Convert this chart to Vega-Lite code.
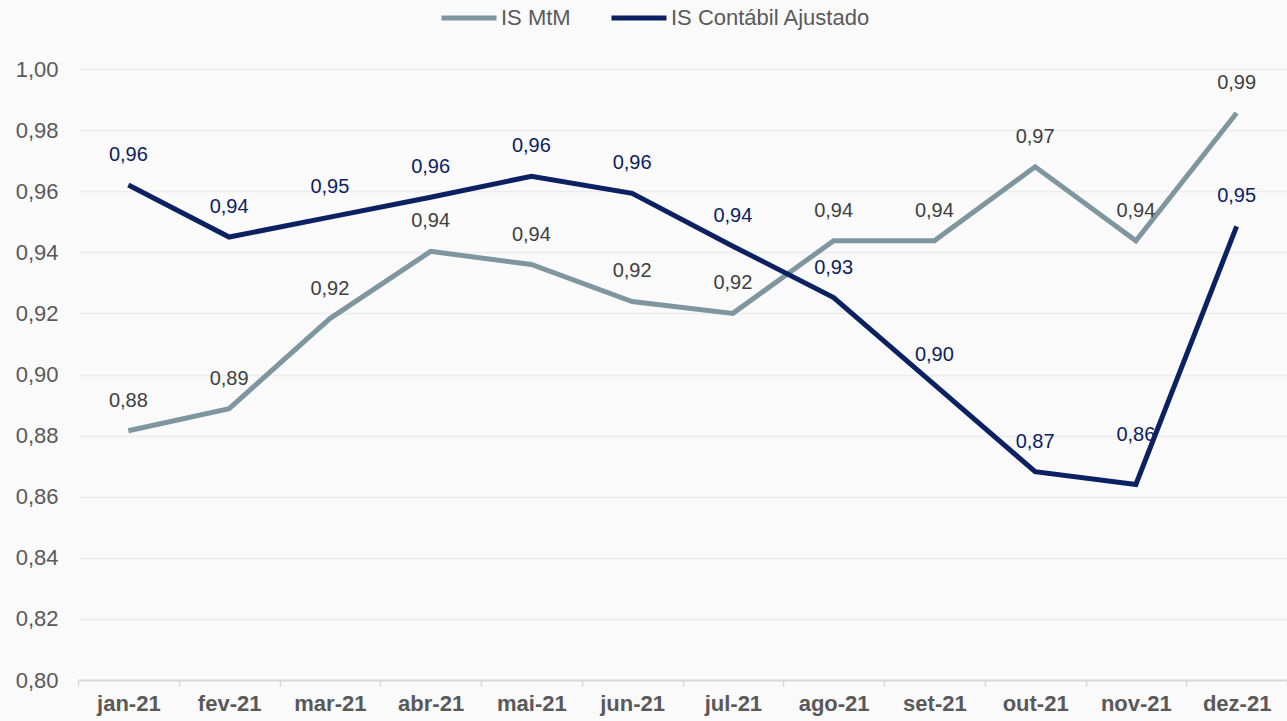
{
  "$schema": "https://vega.github.io/schema/vega-lite/v6.json",
  "autosize": {"type": "none"},
  "width": 1209,
  "height": 611,
  "padding": {"left": 78, "top": 69, "right": 0, "bottom": 41},
  "background": "#fafafa",
  "config": {
    "locale": {"number": {"decimal": ",", "thousands": ".", "grouping": [3], "currency": ["R$", ""]}},
    "view": {"stroke": null},
    "font": "Liberation Sans"
  },
  "data": {
    "values": [
      {"mes": "jan-21", "serie": "IS MtM", "valor": 0.8816},
      {"mes": "fev-21", "serie": "IS MtM", "valor": 0.8888},
      {"mes": "mar-21", "serie": "IS MtM", "valor": 0.9183},
      {"mes": "abr-21", "serie": "IS MtM", "valor": 0.9403},
      {"mes": "mai-21", "serie": "IS MtM", "valor": 0.936},
      {"mes": "jun-21", "serie": "IS MtM", "valor": 0.9239},
      {"mes": "jul-21", "serie": "IS MtM", "valor": 0.92},
      {"mes": "ago-21", "serie": "IS MtM", "valor": 0.9438},
      {"mes": "set-21", "serie": "IS MtM", "valor": 0.9438},
      {"mes": "out-21", "serie": "IS MtM", "valor": 0.968},
      {"mes": "nov-21", "serie": "IS MtM", "valor": 0.9438},
      {"mes": "dez-21", "serie": "IS MtM", "valor": 0.9856},
      {"mes": "jan-21", "serie": "IS Contábil Ajustado", "valor": 0.962},
      {"mes": "fev-21", "serie": "IS Contábil Ajustado", "valor": 0.945},
      {"mes": "mar-21", "serie": "IS Contábil Ajustado", "valor": 0.9515},
      {"mes": "abr-21", "serie": "IS Contábil Ajustado", "valor": 0.958},
      {"mes": "mai-21", "serie": "IS Contábil Ajustado", "valor": 0.9649},
      {"mes": "jun-21", "serie": "IS Contábil Ajustado", "valor": 0.9593},
      {"mes": "jul-21", "serie": "IS Contábil Ajustado", "valor": 0.942},
      {"mes": "ago-21", "serie": "IS Contábil Ajustado", "valor": 0.9252},
      {"mes": "set-21", "serie": "IS Contábil Ajustado", "valor": 0.8967},
      {"mes": "out-21", "serie": "IS Contábil Ajustado", "valor": 0.8682},
      {"mes": "nov-21", "serie": "IS Contábil Ajustado", "valor": 0.864},
      {"mes": "dez-21", "serie": "IS Contábil Ajustado", "valor": 0.9485}
    ]
  },
  "encoding": {
    "x": {
      "field": "mes", "type": "ordinal", "sort": null, "title": null,
      "scale": {"type": "band", "paddingInner": 0, "paddingOuter": 0},
      "axis": {
        "labelAngle": 0, "labelFont": "Liberation Sans", "labelFontSize": 22, "labelFontWeight": "bold",
        "labelColor": "#595959", "labelPadding": 7, "domainColor": "#d9d9d9", "domainWidth": 2,
        "tickColor": "#d9d9d9", "tickSize": 6, "tickWidth": 1.5, "tickBand": "extent", "grid": false
      }
    },
    "y": {
      "field": "valor", "type": "quantitative", "title": null,
      "scale": {"domain": [0.8, 1.0], "nice": false, "zero": false},
      "axis": {
        "values": [0.8, 0.82, 0.84, 0.86, 0.88, 0.9, 0.92, 0.94, 0.96, 0.98, 1.0],
        "format": ".2f", "labelFontSize": 22, "labelColor": "#595959", "labelPadding": 20,
        "domain": false, "ticks": false, "gridColor": "#ececec", "gridWidth": 1.5
      }
    }
  },
  "layer": [
    {
      "mark": {"type": "line", "strokeWidth": 5, "strokeJoin": "miter"},
      "encoding": {
        "color": {
          "field": "serie", "type": "nominal", "title": null,
          "scale": {"domain": ["IS MtM", "IS Contábil Ajustado"], "range": ["#7f959f", "#0b2161"]},
          "legend": {
            "orient": "none", "direction": "horizontal", "legendX": 361, "legendY": -81,
            "symbolType": "stroke", "symbolStrokeWidth": 5, "symbolSize": 3025,
            "labelFontSize": 22, "labelColor": "#595959", "labelOffset": 2, "columnPadding": 30,
            "labelLimit": 400
          }
        }
      }
    },
    {
      "transform": [{"filter": "datum.serie === 'IS MtM'"}],
      "mark": {"type": "text", "baseline": "middle", "dy": -30, "fontSize": 20, "color": "#404040"},
      "encoding": {"text": {"field": "valor", "type": "quantitative", "format": ".2f"}}
    },
    {
      "transform": [{"filter": "datum.serie !== 'IS MtM' && datum.mes !== 'nov-21'"}],
      "mark": {"type": "text", "baseline": "middle", "dy": -30, "fontSize": 20, "color": "#0b2161"},
      "encoding": {"text": {"field": "valor", "type": "quantitative", "format": ".2f"}}
    },
    {
      "transform": [{"filter": "datum.serie !== 'IS MtM' && datum.mes === 'nov-21'"}],
      "mark": {"type": "text", "baseline": "middle", "dy": -49, "fontSize": 20, "color": "#0b2161"},
      "encoding": {"text": {"field": "valor", "type": "quantitative", "format": ".2f"}}
    }
  ]
}
